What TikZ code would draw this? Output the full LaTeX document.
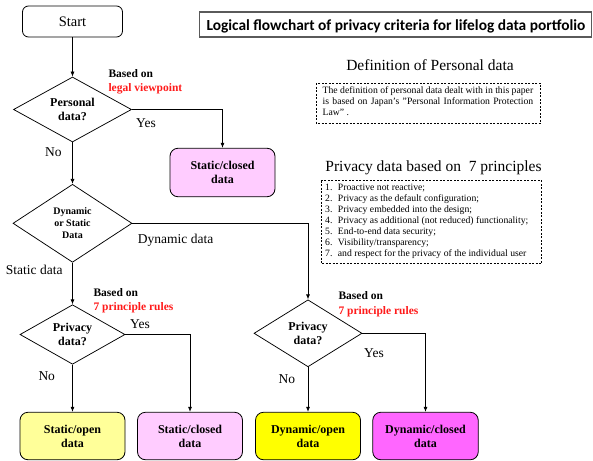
\documentclass[tikz,border=0pt]{standalone}
\usepackage{fontspec}
\setmainfont{Liberation Serif}[BoldFont={Liberation Serif Bold}]
\newfontfamily\titlefont{Carlito}[BoldFont={Carlito Bold}]
\usetikzlibrary{shapes.geometric,arrows.meta}

\definecolor{lightpink}{HTML}{FFCCFF}
\definecolor{lightyel}{HTML}{FFFF99}
\definecolor{brightyel}{HTML}{FFFF00}
\definecolor{brightmag}{HTML}{FF66FF}
\definecolor{titlegray}{HTML}{5A5A5A}
\definecolor{notered}{HTML}{FF1A1A}

\newcommand{\fs}[2]{\fontsize{#1}{#2}\selectfont}

\begin{document}
\begin{tikzpicture}[x=1pt,y=-1pt,
  flow/.style={draw=black, line width=0.75pt, -{Latex[length=5pt,width=4pt]}},
  decision/.style={diamond, draw=black, line width=0.75pt, inner sep=0pt, aspect=2,
    align=center, font=\bfseries\fs{12}{14}},
  outbox/.style={draw=black, line width=0.8pt, rounded corners=8pt, align=center,
    inner sep=0pt, font=\bfseries\fs{12}{14}},
  branch/.style={anchor=base west, font=\fs{13.5}{15}, inner sep=0pt},
  basis/.style={anchor=base west, font=\bfseries\fs{11.5}{13}, inner sep=0pt},
  notebox/.style={draw=black, line width=0.6pt, dash pattern=on 2pt off 1.5pt},
  noteline/.style={anchor=base west, inner sep=0pt, font=\fs{9.7}{11}},
  heading/.style={anchor=base, inner sep=0pt, font=\fs{15.5}{17}}
]
\useasboundingbox (0,0) rectangle (593,460);

% ---- title ----
\node[draw=titlegray, line width=1.6pt, minimum width=392, minimum height=25, inner sep=0pt]
  (title) at (395.5,24.5) {};
\node[anchor=base, inner sep=0pt, font=\titlefont\bfseries\fs{15.4}{17}] (titletext) at (396,30.5)
  {Logical flowchart of privacy criteria for lifelog data portfolio};

% ---- flowchart nodes ----
\node[draw=black, line width=0.8pt, rounded corners=6pt, minimum width=100, minimum height=31,
  inner sep=0pt, font=\fs{14.5}{16}] (start) at (72.5,21.5) {Start};

\node[decision, minimum width=118, minimum height=65] (d1) at (72.5,109.5) {Personal\\data?};
\node[outbox, fill=lightpink, minimum width=105, minimum height=48.5] (sc1) at (222.5,172.5)
  {Static/closed\\data};

\node[decision, minimum width=119, minimum height=78, font=\bfseries\fs{10}{11.8}] (d2) at (72.5,223.3)
  {Dynamic\\or Static\\Data};

\node[decision, minimum width=105, minimum height=59.5] (d3) at (72.5,334.5) {Privacy\\data?};
\node[decision, minimum width=108, minimum height=67] (d4) at (308,333.3) {Privacy\\data?};

\node[outbox, fill=lightyel, minimum width=105, minimum height=47.5] (so) at (72.5,436) {Static/open\\data};
\node[outbox, fill=lightpink, minimum width=105, minimum height=47.5] (sc2) at (190,436) {Static/closed\\data};
\node[outbox, fill=brightyel, minimum width=105, minimum height=47.5] (do) at (308,436) {Dynamic/open\\data};
\node[outbox, fill=brightmag, minimum width=105.5, minimum height=47.5] (dc) at (425.5,436) {Dynamic/closed\\data};

% ---- connectors ----
\draw[flow] (start) -- (d1);
\draw[flow] (d1.east) -| (sc1.north);
\draw[flow] (d1) -- (d2);
\draw[flow] (d2.east) -| (d4.north);
\draw[flow] (d2) -- (d3);
\draw[flow] (d3.east) -| (sc2.north);
\draw[flow] (d3) -- (so);
\draw[flow] (d4.east) -| (dc.north);
\draw[flow] (d4) -- (do);

% ---- branch labels ----
\node[branch] (yes1) at (136,127.3) {Yes};
\node[branch] (no1) at (45,156) {No};
\node[branch] (dyn) at (137.7,243.3) {Dynamic data};
\node[branch] (stat) at (5.7,274) {Static data};
\node[branch] (yes2) at (130,328.7) {Yes};
\node[branch] (no2) at (38.3,380.7) {No};
\node[branch] (yes3) at (364,357.3) {Yes};
\node[branch] (no3) at (278.3,383.3) {No};

% ---- decision bases ----
\node[basis] (b1a) at (108.3,77.3) {Based on};
\node[basis, text=notered] (b1b) at (108.3,91.7) {legal viewpoint};
\node[basis] (b2a) at (93.3,296.7) {Based on};
\node[basis, text=notered] (b2b) at (93.3,310.9) {7 principle rules};
\node[basis] (b3a) at (338.3,299.3) {Based on};
\node[basis, text=notered] (b3b) at (338.3,314.3) {7 principle rules};

% ---- definition note ----
\node[heading] (defhead) at (430,70) {Definition of Personal data};
\draw[notebox] (316,83) rectangle (540.5,123);
\node[noteline] (def1) at (322.5,93.3)
  {\makebox[210.5pt][s]{The definition of personal data dealt with in this paper}};
\node[noteline] (def2) at (322.5,104.5)
  {\makebox[210.5pt][s]{is based on Japan's "Personal Information Protection}};
\node[noteline] (def3) at (322.5,115.7) {Law" .};

% ---- principles note ----
\node[heading] (prhead) at (433.5,171) {Privacy data based on \ 7 principles};
\draw[notebox] (321,180.5) rectangle (541.5,263.5);
\foreach \n/\t [count=\i from 0] in {
  1/{Proactive not reactive;},
  2/{Privacy as the default configuration;},
  3/{Privacy embedded into the design;},
  4/{Privacy as additional (not reduced) functionality;},
  5/{End-to-end data security;},
  6/{Visibility/transparency;},
  7/{and respect for the privacy of the individual user}} {
  \node[noteline] (pn\n) at (325,190.5+11*\i) {\n.};
  \node[noteline] (pt\n) at (337.7,190.5+11*\i) {\t};
}
\end{tikzpicture}
\end{document}
